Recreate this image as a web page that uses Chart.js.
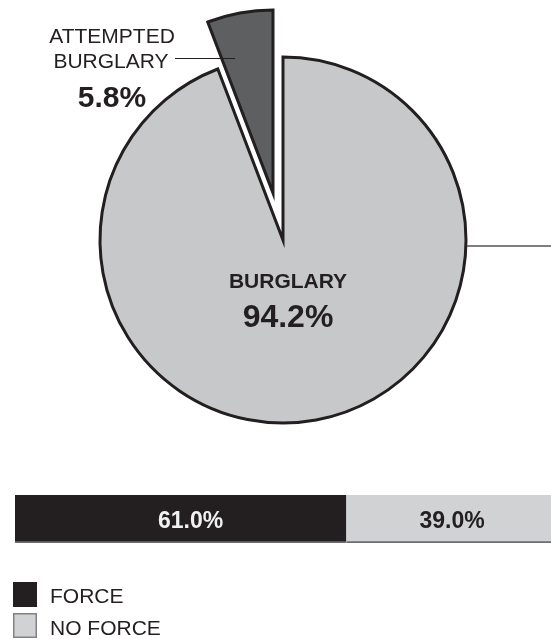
<!DOCTYPE html>
<html>
<head>
<meta charset="utf-8">
<script src="https://cdn.jsdelivr.net/npm/chart.js@4/dist/chart.umd.min.js"></script>
<style>
  html, body { margin: 0; padding: 0; background: #fff; width: 551px; height: 639px; overflow: hidden; position: relative; }
  canvas { position: absolute; }
  #pie { left: 0; top: 0; }
  #pieOut { left: -10px; top: -47px; }
  #bar { left: 0; top: 470px; }
</style>
</head>
<body>
<canvas id="pieOut" width="551" height="480"></canvas>
<canvas id="pie" width="551" height="480"></canvas>
<canvas id="bar" width="580" height="169"></canvas>
<script>
// pie: type of burglary
const pieLabels = ['BURGLARY', 'ATTEMPTED BURGLARY'];
const pieValues = [94.2, 5.8];
const pieColours = ['#c7c8ca', '#5e5f61'];

// bar: forcible entry split
const barLabels = ['FORCE', 'NO FORCE'];
const barValues = [61.0, 39.0];
const barColours = ['#231f20', '#d1d2d4'];

const ink = '#231f20';
const fontFamily = '"Liberation Sans", Arial, sans-serif';

const pieText = {
    id: 'pieText',
    afterDraw(chart) {
        const ctx = chart.ctx;
        const main = chart.getDatasetMeta(0).data[0];
        ctx.save();
        ctx.fillStyle = ink;
        ctx.textAlign = 'center';
        ctx.textBaseline = 'alphabetic';

        // centre label of the big slice
        ctx.font = 'bold 21px ' + fontFamily;
        ctx.fillText(pieLabels[0], main.x + 5, 288);
        ctx.font = 'bold 32px ' + fontFamily;
        ctx.fillText(pieValues[0].toFixed(1) + '%', main.x + 5, 327);

        // label of the exploded slice
        const words = pieLabels[1].split(' ');
        ctx.font = '21px ' + fontFamily;
        ctx.fillText(words[0], 112, 43);
        ctx.fillText(words[1], 111, 68);
        ctx.font = 'bold 30px ' + fontFamily;
        ctx.fillText(pieValues[1].toFixed(1) + '%', 112, 107);

        ctx.strokeStyle = ink;
        ctx.lineWidth = 1;
        ctx.beginPath();
        ctx.moveTo(175, 58.5);
        ctx.lineTo(235, 58.5);
        ctx.stroke();

        // leader line off to the bar below
        ctx.strokeStyle = '#555';
        ctx.lineWidth = 1.5;
        ctx.beginPath();
        ctx.moveTo(main.x + main.outerRadius + 1, 246);
        ctx.lineTo(chart.width, 246);
        ctx.stroke();
        ctx.restore();
    }
};

// one pie per layer: the attempted slice sits on its own shifted canvas
function makePie(canvas, showIndex, extra) {
    return new Chart(canvas, {
        type: 'pie',
        data: {
            labels: pieLabels,
            datasets: [{
                data: pieValues,
                backgroundColor: pieColours.map((c, i) => i === showIndex ? c : 'rgba(0,0,0,0)'),
                borderColor: pieColours.map((c, i) => i === showIndex ? ink : 'rgba(0,0,0,0)'),
                borderWidth: 3,
                borderJoinStyle: 'miter',
                clip: false
            }]
        },
        options: {
            responsive: false,
            animation: false,
            events: [],
            radius: 183,
            layout: { padding: { left: 15, right: 0, top: 0, bottom: 0 } },
            plugins: {
                legend: { display: false },
                tooltip: { enabled: false }
            }
        },
        plugins: extra
    });
}

makePie(document.getElementById('pieOut'), 1, []);
makePie(document.getElementById('pie'), 0, [pieText]);

const barText = {
    id: 'barText',
    afterDraw(chart) {
        const ctx = chart.ctx;
        ctx.save();
        chart.data.datasets.forEach((ds, i) => {
            const el = chart.getDatasetMeta(i).data[0];
            ctx.textAlign = 'center';
            ctx.textBaseline = 'middle';
            ctx.font = 'bold 23px ' + fontFamily;
            ctx.fillStyle = i === 0 ? '#f1f1f2' : ink;
            ctx.fillText(ds.data[0].toFixed(1) + '%', (el.x + el.base) / 2 + (i === 0 ? 10 : 0), el.y + 3);

            // legend rows
            const top = 112 + i * 31;
            ctx.fillStyle = ds.backgroundColor;
            ctx.fillRect(13, top, 24, 25);
            if (i > 0) {
                ctx.strokeStyle = '#808285';
                ctx.lineWidth = 1.5;
                ctx.strokeRect(13.75, top + 0.75, 22.5, 23.5);
            }
            ctx.fillStyle = ink;
            ctx.textAlign = 'left';
            ctx.textBaseline = 'alphabetic';
            ctx.font = '21px ' + fontFamily;
            ctx.fillText(ds.label, 50, 133 + i * 32);
        });
        ctx.restore();
    }
};

new Chart(document.getElementById('bar'), {
    type: 'bar',
    data: {
        labels: [''],
        datasets: barLabels.map((label, i) => ({
            label: label,
            data: [barValues[i]],
            backgroundColor: barColours[i],
            borderColor: '#6d6e71',
            borderWidth: { top: 0, right: 0, bottom: 2, left: 0 },
            borderSkipped: false,
            barPercentage: 1,
            categoryPercentage: 1
        }))
    },
    options: {
        indexAxis: 'y',
        responsive: false,
        animation: false,
        events: [],
        layout: { padding: { left: 15, right: 22, top: 25, bottom: 96 } },
        scales: {
            x: { stacked: true, min: 0, max: 100, display: false },
            y: { stacked: true, display: false }
        },
        plugins: {
            legend: { display: false },
            tooltip: { enabled: false }
        }
    },
    plugins: [barText]
});
</script>
</body>
</html>
